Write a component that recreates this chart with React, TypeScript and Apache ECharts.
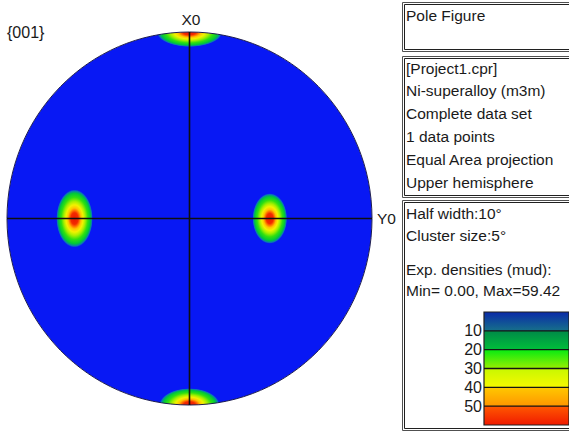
import { useEffect, useRef } from "react";
import * as echarts from "echarts";

// Pole figure {001}: pole positions in the equal-area projection (unit circle)
// and the half-axes of the density cluster around each pole.
const figureTitle = "{001}";
const axisNames = ["X0", "Y0"];
const poleX = [0, 0, -0.63, 0.44];
const poleY = [1, -1, 0, 0];
const clusterRx = [0.18, 0.165, 0.1, 0.095];
const clusterRy = [0.08, 0.09, 0.155, 0.135];

// Density scale (mud)
const densityMin = 0;
const densityMax = 60;
const densityLevels = [10, 20, 30, 40, 50];

// Info panels
const panelTitle = "Pole Figure";
const datasetLines = [
  "[Project1.cpr]",
  "Ni-superalloy (m3m)",
  "Complete data set",
  "1 data points",
  "Equal Area projection",
  "Upper hemisphere",
];
const smoothingLines = ["Half width:10°", "Cluster size:5°"];
const densityLines = ["Exp. densities (mud):", "Min= 0.00, Max=59.42"];

const FONT = "Liberation Sans";
const TEXT = "#1a1a1a";
const DISK_BLUE = "#0818f4";

// colour bands of the density scale, [top, bottom] of each band
const bandColors: [string, string][] = [
  ["#0a2aa8", "#16708a"],
  ["#008a48", "#00be3a"],
  ["#06ea12", "#98f000"],
  ["#c8f800", "#f6f800"],
  ["#ffc800", "#ff9600"],
  ["#ff5800", "#f01a00"],
];

export default function App() {
  const ref = useRef<HTMLDivElement>(null);

  useEffect(() => {
    if (!ref.current) return;
    const chart = echarts.init(ref.current, undefined, { renderer: "svg" });

    const spotFill = new echarts.graphic.RadialGradient(0.5, 0.5, 0.5, [
      { offset: 0, color: "#e81800" },
      { offset: 0.2, color: "#f22a00" },
      { offset: 0.28, color: "#ff7400" },
      { offset: 0.36, color: "#ffc400" },
      { offset: 0.47, color: "#f2f200" },
      { offset: 0.59, color: "#a6f000" },
      { offset: 0.73, color: "#30e010" },
      { offset: 0.87, color: "#00c83a" },
      { offset: 0.95, color: "#0a7cb0" },
      { offset: 1, color: DISK_BLUE },
    ]);

    const span = densityMax - densityMin;
    const barStops: { offset: number; color: string }[] = [];
    const bounds = [densityMin, ...densityLevels, densityMax];
    bandColors.forEach((pair, i) => {
      barStops.push({ offset: (bounds[i] - densityMin) / span + (i ? 0.001 : 0), color: pair[0] });
      barStops.push({ offset: (bounds[i + 1] - densityMin) / span, color: pair[1] });
    });
    const barFill = new echarts.graphic.LinearGradient(0, 0, 0, 1, barStops);

    const textEl = (x: number, y: number, text: string, size = 15.5, align = "left") => ({
      type: "text",
      x,
      y,
      z: 20,
      style: {
        text,
        fill: TEXT,
        font: `${size}px "${FONT}"`,
        textAlign: align,
        textVerticalAlign: "middle",
      },
    });

    const panelBox = (top: number, height: number) => ({
      type: "group",
      z: 20,
      children: [
        {
          type: "rect",
          z: 20,
          shape: { x: 402.5, y: top + 0.5, width: 220, height: height - 1 },
          style: { fill: "none", stroke: "#505050", lineWidth: 1 },
        },
        {
          type: "rect",
          z: 21,
          shape: { x: 404.5, y: top + 2.5, width: 220, height: height - 5 },
          style: { fill: "none", stroke: "#202020", lineWidth: 1 },
        },
      ],
    });

    const lineStep = 22.8;

    chart.setOption({
      animation: false,
      backgroundColor: "#ffffff",
      grid: [
        { left: 7, top: 32, width: 365, height: 373, show: false },
        { left: 484, top: 312, width: 110, height: 113, show: false },
      ],
      xAxis: [
        { type: "value", gridIndex: 0, min: -1, max: 1, show: false },
        { type: "value", gridIndex: 1, min: 0, max: 1, show: false },
      ],
      yAxis: [
        { type: "value", gridIndex: 0, min: -1, max: 1, show: false },
        {
          type: "value",
          gridIndex: 1,
          min: densityMin,
          max: densityMax,
          interval: 10,
          inverse: true,
          axisLine: { show: false },
          axisTick: { show: false },
          splitLine: { show: false },
          axisLabel: {
            margin: 2,
            fontFamily: FONT,
            fontSize: 16,
            color: TEXT,
            formatter: (v: number) => (densityLevels.includes(v) ? String(v) : ""),
          },
        },
      ],
      graphic: [
        textEl(7, 32, figureTitle, 16),
        textEl(191, 19, axisNames[0], 15.5, "center"),
        textEl(377, 218.5, axisNames[1], 15.5),
        panelBox(2, 50),
        textEl(406, 15, panelTitle),
        panelBox(56, 142),
        ...datasetLines.map((t, i) => textEl(406, 68 + i * lineStep, t)),
        panelBox(200, 231),
        ...smoothingLines.map((t, i) => textEl(406, 213 + i * lineStep, t)),
        ...densityLines.map((t, i) => textEl(406, 269 + i * 21.5, t)),
      ],
      series: [
        {
          // projection disk
          type: "custom",
          xAxisIndex: 0,
          yAxisIndex: 0,
          z: 1,
          data: [[0, 0, 1, 1]],
          renderItem: (_p: any, api: any) => {
            const c = api.coord([api.value(0), api.value(1)]);
            const s = api.size([api.value(2), api.value(3)]);
            return {
              type: "ellipse",
              shape: { cx: c[0], cy: c[1], rx: s[0], ry: s[1] },
              style: { fill: DISK_BLUE },
            };
          },
        },
        {
          // density clusters around each pole
          type: "custom",
          xAxisIndex: 0,
          yAxisIndex: 0,
          z: 2,
          data: poleX.map((x, i) => [x, poleY[i], clusterRx[i], clusterRy[i]]),
          renderItem: (_p: any, api: any) => {
            const c = api.coord([api.value(0), api.value(1)]);
            const s = api.size([api.value(2), api.value(3)]);
            return {
              type: "circle",
              x: c[0],
              y: c[1],
              scaleX: s[0],
              scaleY: s[1],
              shape: { cx: 0, cy: 0, r: 1 },
              style: { fill: spotFill },
            };
          },
        },
        {
          // outside of the projection, outline and reference axes
          type: "custom",
          xAxisIndex: 0,
          yAxisIndex: 0,
          z: 3,
          data: [[0, 0, 1, 1]],
          renderItem: (_p: any, api: any) => {
            const c = api.coord([api.value(0), api.value(1)]);
            const s = api.size([api.value(2), api.value(3)]);
            const l = api.coord([-1, 0]);
            const r = api.coord([1, 0]);
            const t = api.coord([0, 1]);
            const b = api.coord([0, -1]);
            return {
              type: "group",
              children: [
                {
                  type: "ring",
                  x: c[0],
                  y: c[1],
                  scaleX: s[0],
                  scaleY: s[1],
                  shape: { cx: 0, cy: 0, r: 1.12, r0: 1 },
                  style: { fill: "#ffffff" },
                },
                {
                  type: "ellipse",
                  shape: { cx: c[0], cy: c[1], rx: s[0], ry: s[1] },
                  style: { fill: "none", stroke: "#1c1c50", lineWidth: 1 },
                },
                {
                  type: "line",
                  shape: { x1: l[0], y1: l[1], x2: r[0], y2: r[1] },
                  style: { stroke: "#101010", lineWidth: 1.6 },
                },
                {
                  type: "line",
                  shape: { x1: t[0], y1: t[1], x2: b[0], y2: b[1] },
                  style: { stroke: "#101010", lineWidth: 1.6 },
                },
              ],
            };
          },
        },
        {
          // density colour scale
          type: "custom",
          xAxisIndex: 1,
          yAxisIndex: 1,
          z: 5,
          data: [[0, densityMin, 1, densityMax]],
          renderItem: (_p: any, api: any) => {
            const p0 = api.coord([api.value(0), api.value(1)]);
            const p1 = api.coord([api.value(2), api.value(3)]);
            const children: any[] = [
              {
                type: "rect",
                shape: { x: p0[0], y: p0[1], width: p1[0] - p0[0], height: p1[1] - p0[1] },
                style: { fill: barFill, stroke: "#202020", lineWidth: 1.2 },
              },
            ];
            densityLevels.forEach((lv) => {
              const a = api.coord([0, lv]);
              const e = api.coord([1, lv]);
              children.push({
                type: "line",
                shape: { x1: a[0], y1: a[1], x2: e[0], y2: e[1] },
                style: { stroke: "#141414", lineWidth: 1.4 },
              });
            });
            return { type: "group", children };
          },
        },
      ],
    });

    return () => chart.dispose();
  }, []);

  return (
    <div
      ref={ref}
      style={{ position: "fixed", left: 0, top: 0, width: 569, height: 431, background: "#fff" }}
    />
  );
}
